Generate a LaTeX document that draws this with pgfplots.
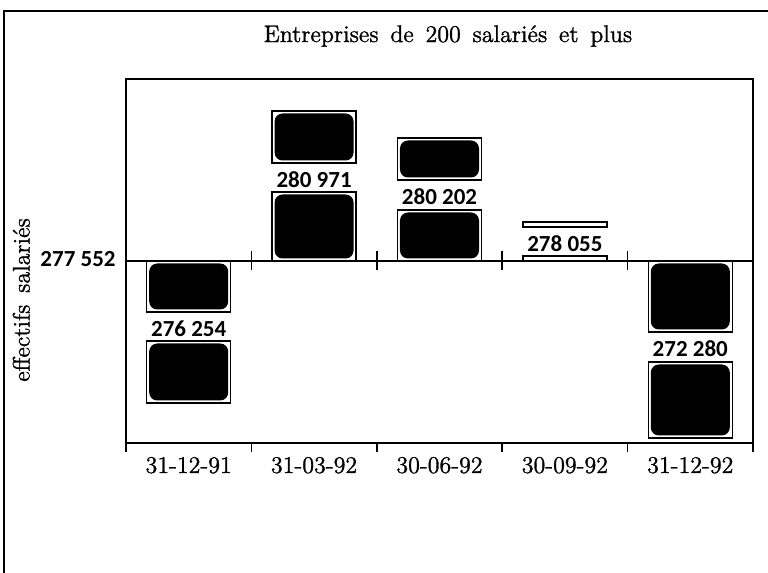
\documentclass[border=0pt]{standalone}
\usepackage{fontspec}
\usepackage{pgfplots}
\pgfplotsset{compat=1.18}
\setmainfont{lmroman12-regular.otf}[FakeBold=1.2, WordSpace=1.5]
\newfontfamily\numfont{Carlito}
\newcommand\numlab{\numfont\bfseries\fontsize{11.5}{12}\selectfont}
% Offsets are drawn as on the original chart (not to scale), in units of the plot;
% the labels give the actual values (baseline 277 552).
\pgfplotstableread[col sep=comma]{
x,y,lab
0,-76,276 254
1,73,280 971
2,56,280 202
3,9,278 055
4,-96,272 280
}\labels
\pgfplotsset{frame/.style={at={(63pt,65pt)}, anchor=south west,
  scale only axis, width=313.5pt, height=182pt,
  xmin=-0.5, xmax=4.5, ymin=-182, ymax=182}}
\begin{document}
\begin{tikzpicture}
\useasboundingbox (0,0) rectangle (384pt,286.5pt);
\draw[line width=0.75pt] (2pt,0) -- (2pt,281pt) -- (384pt,281pt);
\begin{axis}[
  frame,
  ybar stacked, bar width=0.67, bar shift=0pt,
  font=\fontsize{12}{14}\selectfont,
  axis line style={line width=0.8pt},
  xtick={0,...,4},
  xticklabels={31-12-91,31-03-92,30-06-92,30-09-92,31-12-92},
  minor xtick={-0.5,0.5,...,4.5},
  xtick pos=left, ytick pos=left,
  tick align=outside,
  major tick length=0pt, minor tick length=4.5pt,
  minor x tick style={line width=0.8pt, black},
  xticklabel style={anchor=base, yshift=-15pt, inner sep=0pt},
  ytick={0}, yticklabels={277 552},
  yticklabel style={anchor=base east, inner sep=0pt, xshift=-5pt, yshift=-3pt, font=\numlab},
  title={Entreprises de 200 salariés et plus},
  every axis title shift=0pt,
  title style={at={(axis description cs:0.5136,1.1016)}, anchor=base},
  ylabel={effectifs salariés},
  every axis y label/.style={at={(axis description cs:-0.167,0.393)}, rotate=90, anchor=center},
]
\addplot[fill=white, draw=black, line width=0.65pt] coordinates {(0,-51) (1,69) (2,51) (3,5) (4,-71)};
\addplot[fill=none, draw=none] coordinates {(0,-29) (1,29) (2,30) (3,29) (4,-30)};
\addplot[fill=white, draw=black, line width=0.65pt] coordinates {(0,-62) (1,52) (2,42) (3,5) (4,-76)};
\addplot[sharp plot, stack plots=false, black, line width=0.8pt, mark=none] coordinates {(-0.5,0) (4.5,0)};
\addplot[sharp plot, stack plots=false, only marks, mark=|, mark size=4.75pt, mark options={line width=0.8pt, black}] coordinates {(0.5,0) (1.5,0) (2.5,0) (3.5,0)};
\end{axis}
\begin{axis}[frame, hide axis, ybar stacked, bar width=0.63, bar shift=0pt]
\addplot[fill=none, draw=none] coordinates {(0,-2.5) (1,2.5) (2,2.5) (3,2.5) (4,-2.5)};
\addplot[fill=black, draw=none, rounded corners=4pt] coordinates {(0,-46) (1,64) (2,46) (3,0) (4,-66)};
\addplot[fill=none, draw=none] coordinates {(0,-34) (1,34) (2,35) (3,31) (4,-35)};
\addplot[fill=black, draw=none, rounded corners=4pt] coordinates {(0,-57) (1,47) (2,37) (3,0) (4,-71)};
\end{axis}
\begin{axis}[frame, hide axis]
\addplot[black, only marks, mark=none, nodes near coords, point meta=explicit symbolic,
  every node near coord/.style={anchor=base, inner sep=0pt, font=\numlab, text=black}] table[meta=lab] {\labels};
\end{axis}
\end{tikzpicture}
\end{document}
